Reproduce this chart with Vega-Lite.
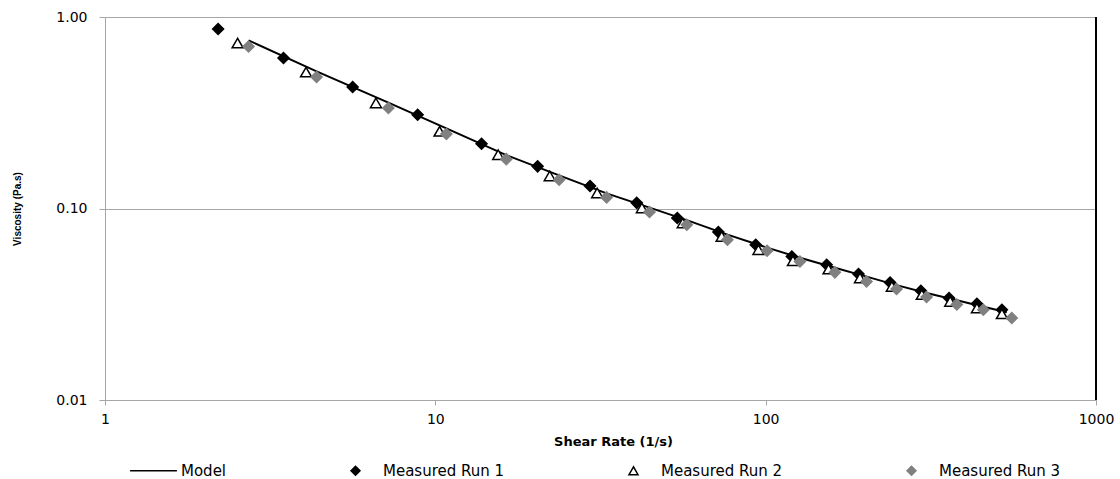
{
  "$schema": "https://vega.github.io/schema/vega-lite/v6.json",
  "width": 991,
  "height": 383,
  "autosize": {"type": "none"},
  "padding": {"left": 105, "top": 17, "right": 24, "bottom": 79},
  "background": "white",
  "config": {"view": {"stroke": null}, "font": "DejaVu Sans"},
  "data": {"values": [
    {"series": "Model", "rate": 2.72, "visc": 0.755},
    {"series": "Model", "rate": 4.37, "visc": 0.52},
    {"series": "Model", "rate": 7.21, "visc": 0.357},
    {"series": "Model", "rate": 10.8, "visc": 0.262},
    {"series": "Model", "rate": 16.4, "visc": 0.19},
    {"series": "Model", "rate": 23.7, "visc": 0.149},
    {"series": "Model", "rate": 33.0, "visc": 0.12},
    {"series": "Model", "rate": 44.5, "visc": 0.101},
    {"series": "Model", "rate": 57.7, "visc": 0.087},
    {"series": "Model", "rate": 76.6, "visc": 0.073},
    {"series": "Model", "rate": 101, "visc": 0.0625},
    {"series": "Model", "rate": 127, "visc": 0.0553},
    {"series": "Model", "rate": 162, "visc": 0.049},
    {"series": "Model", "rate": 202, "visc": 0.0441},
    {"series": "Model", "rate": 249, "visc": 0.0398},
    {"series": "Model", "rate": 307, "visc": 0.0362},
    {"series": "Model", "rate": 379, "visc": 0.0332},
    {"series": "Model", "rate": 456, "visc": 0.0307},
    {"series": "Model", "rate": 537, "visc": 0.0287},
    {"series": "Measured Run 1", "rate": 2.20, "visc": 0.866},
    {"series": "Measured Run 1", "rate": 3.47, "visc": 0.611},
    {"series": "Measured Run 1", "rate": 5.62, "visc": 0.431},
    {"series": "Measured Run 1", "rate": 8.84, "visc": 0.309},
    {"series": "Measured Run 1", "rate": 13.8, "visc": 0.218},
    {"series": "Measured Run 1", "rate": 20.4, "visc": 0.166},
    {"series": "Measured Run 1", "rate": 29.4, "visc": 0.131},
    {"series": "Measured Run 1", "rate": 40.7, "visc": 0.107},
    {"series": "Measured Run 1", "rate": 54.0, "visc": 0.0892},
    {"series": "Measured Run 1", "rate": 71.9, "visc": 0.0754},
    {"series": "Measured Run 1", "rate": 93.3, "visc": 0.0647},
    {"series": "Measured Run 1", "rate": 120, "visc": 0.0562},
    {"series": "Measured Run 1", "rate": 153, "visc": 0.0509},
    {"series": "Measured Run 1", "rate": 191, "visc": 0.0455},
    {"series": "Measured Run 1", "rate": 238, "visc": 0.0411},
    {"series": "Measured Run 1", "rate": 295, "visc": 0.0372},
    {"series": "Measured Run 1", "rate": 359, "visc": 0.0341},
    {"series": "Measured Run 1", "rate": 436, "visc": 0.0318},
    {"series": "Measured Run 1", "rate": 519, "visc": 0.0296},
    {"series": "Measured Run 2", "rate": 2.52, "visc": 0.731},
    {"series": "Measured Run 2", "rate": 4.06, "visc": 0.516},
    {"series": "Measured Run 2", "rate": 6.61, "visc": 0.356},
    {"series": "Measured Run 2", "rate": 10.3, "visc": 0.253},
    {"series": "Measured Run 2", "rate": 15.5, "visc": 0.191},
    {"series": "Measured Run 2", "rate": 22.2, "visc": 0.148},
    {"series": "Measured Run 2", "rate": 30.9, "visc": 0.1205},
    {"series": "Measured Run 2", "rate": 42.2, "visc": 0.1007},
    {"series": "Measured Run 2", "rate": 56.1, "visc": 0.084},
    {"series": "Measured Run 2", "rate": 73.6, "visc": 0.0715},
    {"series": "Measured Run 2", "rate": 95.1, "visc": 0.0609},
    {"series": "Measured Run 2", "rate": 121, "visc": 0.0534},
    {"series": "Measured Run 2", "rate": 155, "visc": 0.0483},
    {"series": "Measured Run 2", "rate": 193, "visc": 0.0434},
    {"series": "Measured Run 2", "rate": 241, "visc": 0.0392},
    {"series": "Measured Run 2", "rate": 297, "visc": 0.0355},
    {"series": "Measured Run 2", "rate": 362, "visc": 0.0327},
    {"series": "Measured Run 2", "rate": 436, "visc": 0.0302},
    {"series": "Measured Run 2", "rate": 519, "visc": 0.0282},
    {"series": "Measured Run 3", "rate": 2.72, "visc": 0.702},
    {"series": "Measured Run 3", "rate": 4.37, "visc": 0.486},
    {"series": "Measured Run 3", "rate": 7.21, "visc": 0.335},
    {"series": "Measured Run 3", "rate": 10.8, "visc": 0.245},
    {"series": "Measured Run 3", "rate": 16.4, "visc": 0.181},
    {"series": "Measured Run 3", "rate": 23.7, "visc": 0.1414},
    {"series": "Measured Run 3", "rate": 33.0, "visc": 0.1143},
    {"series": "Measured Run 3", "rate": 44.5, "visc": 0.0959},
    {"series": "Measured Run 3", "rate": 57.7, "visc": 0.0823},
    {"series": "Measured Run 3", "rate": 76.6, "visc": 0.0687},
    {"series": "Measured Run 3", "rate": 101, "visc": 0.0602},
    {"series": "Measured Run 3", "rate": 127, "visc": 0.0529},
    {"series": "Measured Run 3", "rate": 162, "visc": 0.0464},
    {"series": "Measured Run 3", "rate": 202, "visc": 0.0416},
    {"series": "Measured Run 3", "rate": 249, "visc": 0.038},
    {"series": "Measured Run 3", "rate": 307, "visc": 0.0345},
    {"series": "Measured Run 3", "rate": 379, "visc": 0.0315},
    {"series": "Measured Run 3", "rate": 456, "visc": 0.0296},
    {"series": "Measured Run 3", "rate": 556, "visc": 0.0268}
  ]},
  "encoding": {
    "x": {
      "field": "rate", "type": "quantitative",
      "scale": {"type": "log", "domain": [1, 1000], "nice": false},
      "axis": {
        "title": "Shear Rate (1/s)", "values": [1, 10, 100, 1000], "format": "d",
        "grid": false, "domainColor": "#a6a6a6", "tickColor": "#a6a6a6", "tickSize": 5,
        "labelFontSize": 14, "labelColor": "black", "labelFlush": false, "labelOverlap": false,
        "labelPadding": 7, "titleFontSize": 13, "titleFontWeight": "bold", "titleColor": "black",
        "titlePadding": 9, "titleX": 508
      }
    },
    "y": {
      "field": "visc", "type": "quantitative",
      "scale": {"type": "log", "domain": [0.01, 1], "nice": false},
      "axis": {
        "title": "Viscosity (Pa.s)", "values": [0.01, 0.1, 1], "format": ".2f",
        "grid": true, "gridColor": "#a6a6a6", "gridOpacity": 1,
        "domainColor": "#a6a6a6", "tickColor": "#a6a6a6", "tickSize": 6,
        "labelFontSize": 14, "labelColor": "black", "labelFlush": false, "labelPadding": 12,
        "titleFont": "Liberation Sans", "titleFontSize": 10, "titleFontWeight": "bold",
        "titleColor": "black", "titlePadding": 33
      }
    }
  },
  "layer": [
    {
      "mark": {"type": "rule", "color": "black", "strokeWidth": 1},
      "encoding": {
        "x": {"datum": 1000, "type": "quantitative"},
        "y": {"datum": 0.01, "type": "quantitative"},
        "y2": {"datum": 1}
      }
    },
    {
      "transform": [{"filter": "datum.series === 'Model'"}],
      "mark": {"type": "line", "strokeWidth": 2},
      "encoding": {
        "stroke": {
          "field": "series", "type": "nominal",
          "scale": {"domain": ["Model", "Measured Run 1", "Measured Run 2", "Measured Run 3"], "range": ["black", "black", "black", "#808080"]},
          "legend": {
            "orient": "none", "legendX": 22, "legendY": 446, "direction": "horizontal", "columns": 4,
            "title": null, "padding": 0, "symbolSize": 81, "symbolOffset": 19, "labelOffset": 20,
            "columnPadding": 102, "labelFontSize": 15, "labelFont": "DejaVu Sans", "labelColor": "black",
            "symbolStrokeWidth": 1.5, "gridAlign": "each", "labelLimit": 300
          }
        }
      }
    },
    {
      "transform": [{"filter": "datum.series !== 'Model'"}],
      "mark": {"type": "point", "size": 120, "strokeWidth": 1.5, "opacity": 1, "fillOpacity": 1},
      "encoding": {
        "stroke": {"field": "series", "type": "nominal"},
        "fill": {
          "field": "series", "type": "nominal",
          "scale": {"domain": ["Model", "Measured Run 1", "Measured Run 2", "Measured Run 3"], "range": ["transparent", "black", "white", "#808080"]}
        },
        "shape": {
          "field": "series", "type": "nominal",
          "scale": {"domain": ["Model", "Measured Run 1", "Measured Run 2", "Measured Run 3"], "range": ["M-5.2,0H5.2", "diamond", "triangle-up", "diamond"]}
        }
      }
    }
  ]
}
